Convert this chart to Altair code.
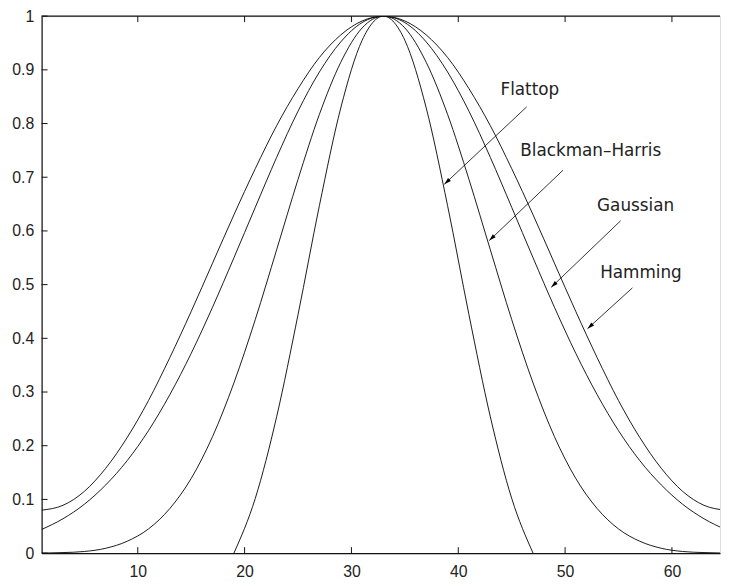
import altair as alt
import pandas as pd

# ---- data ----
x_samples = [1, 3, 5, 7, 9, 11, 13, 15, 17, 19, 21, 23, 25, 27, 29, 31, 33,
             35, 37, 39, 41, 43, 45, 47, 49, 51, 53, 55, 57, 59, 61, 63, 65]
hamming = [0.080, 0.089, 0.115, 0.158, 0.215, 0.284, 0.364, 0.450, 0.540, 0.630,
           0.716, 0.796, 0.865, 0.923, 0.965, 0.991, 1.000, 0.991, 0.965, 0.923,
           0.865, 0.796, 0.716, 0.630, 0.540, 0.450, 0.364, 0.284, 0.215, 0.158,
           0.115, 0.089, 0.080]
gaussian = [0.044, 0.064, 0.091, 0.127, 0.172, 0.228, 0.295, 0.372, 0.458, 0.550,
            0.644, 0.737, 0.823, 0.896, 0.952, 0.988, 1.000, 0.988, 0.952, 0.896,
            0.823, 0.737, 0.644, 0.550, 0.458, 0.372, 0.295, 0.228, 0.172, 0.127,
            0.091, 0.064, 0.044]
blackman_harris = [0.000, 0.001, 0.003, 0.009, 0.022, 0.045, 0.083, 0.139, 0.217, 0.317,
                   0.435, 0.565, 0.696, 0.817, 0.914, 0.978, 1.000, 0.978, 0.914, 0.817,
                   0.696, 0.565, 0.435, 0.317, 0.217, 0.139, 0.083, 0.045, 0.022, 0.009,
                   0.003, 0.001, 0.000]
flattop_x = [19, 21, 23, 25, 27, 29, 31, 33, 35, 37, 39, 41, 43, 45, 47]
flattop = [0.000, 0.102, 0.254, 0.444, 0.647, 0.829, 0.955, 1.000, 0.955, 0.829,
           0.647, 0.444, 0.254, 0.102, 0.000]

x_ticks = [10, 20, 30, 40, 50, 60]
y_ticks = [0, 0.1, 0.2, 0.3, 0.4, 0.5, 0.6, 0.7, 0.8, 0.9, 1]

label_names = ["Flattop", "Blackman–Harris", "Gaussian", "Hamming"]
label_x = [46.7, 52.4, 56.6, 57.1]
label_y = [0.862, 0.748, 0.646, 0.521]
arrow_x0 = [46.4, 49.8, 55.2, 56.3]
arrow_y0 = [0.831, 0.713, 0.619, 0.494]
arrow_x1 = [38.7, 42.9, 48.7, 52.1]
arrow_y1 = [0.687, 0.582, 0.495, 0.418]
arrow_angle = [227, 226, 226, 228]

# ---- tables ----
rows = []
for name, ys, xs in [("Hamming", hamming, x_samples), ("Gaussian", gaussian, x_samples),
                     ("Blackman-Harris", blackman_harris, x_samples), ("Flattop", flattop, flattop_x)]:
    for xv, yv in zip(xs, ys):
        rows.append({"series": name, "x": xv, "y": yv})
curves = pd.DataFrame(rows)
labels = pd.DataFrame({"text": label_names, "x": label_x, "y": label_y})
arrows = pd.DataFrame({"x0": arrow_x0, "y0": arrow_y0, "x1": arrow_x1, "y1": arrow_y1,
                       "ang": arrow_angle})

W, H = 686, 543
xscale = alt.Scale(domain=[1, 64.5], nice=False, zero=False)
yscale = alt.Scale(domain=[0, 1], nice=False, zero=False)

tick_font = "Liberation Sans"
x_axis = alt.Axis(values=x_ticks, ticks=False, grid=False, title=None, domainColor="#111",
                  domainWidth=1.2, labelFont=tick_font, labelFontSize=16, labelColor="#222",
                  labelPadding=11)
y_axis = alt.Axis(values=y_ticks, ticks=False, grid=False, title=None, domainColor="#111",
                  domainWidth=1.2, labelFont=tick_font, labelFontSize=16, labelColor="#222",
                  labelPadding=8,
                  labelExpr="datum.value == 0 ? '0' : (datum.value == 1 ? '1' : format(datum.value, '.1f'))")

lines = alt.Chart(curves).mark_line(color="black", strokeWidth=0.9, interpolate="monotone",
                                    clip=True).encode(
    x=alt.X("x:Q", scale=xscale, axis=x_axis),
    y=alt.Y("y:Q", scale=yscale, axis=y_axis),
    detail="series:N",
)

xt = pd.DataFrame({"t": x_ticks})
yt = pd.DataFrame({"v": y_ticks})
bottom_ticks = alt.Chart(xt).mark_rule(color="#111", strokeWidth=1).encode(
    x=alt.X("t:Q", scale=xscale, axis=x_axis), y=alt.value(H), y2=alt.value(H - 6))
top_ticks = alt.Chart(xt).mark_rule(color="#111", strokeWidth=1).encode(
    x=alt.X("t:Q", scale=xscale, axis=x_axis), y=alt.value(0), y2=alt.value(6))
left_ticks = alt.Chart(yt).mark_rule(color="#111", strokeWidth=1).encode(
    y=alt.Y("v:Q", scale=yscale, axis=y_axis), x=alt.value(0), x2=alt.value(6))
top_border = alt.Chart(pd.DataFrame({"a": [0]})).mark_rule(color="#111", strokeWidth=1.2).encode(
    y=alt.value(0))

arrow_lines = alt.Chart(arrows).mark_rule(color="black", strokeWidth=0.8).encode(
    x=alt.X("x0:Q", scale=xscale, axis=x_axis), y=alt.Y("y0:Q", scale=yscale, axis=y_axis),
    x2="x1:Q", y2="y1:Q")
arrow_heads = alt.Chart(arrows).mark_point(shape="M0,0L-0.3,1L0.3,1Z", filled=True, size=196,
                                           color="black", opacity=1, strokeWidth=0).encode(
    x=alt.X("x1:Q", scale=xscale, axis=x_axis), y=alt.Y("y1:Q", scale=yscale, axis=y_axis),
    angle=alt.Angle("ang:Q", scale=None))

texts = alt.Chart(labels).mark_text(font="DejaVu Sans", fontSize=17, color="#222",
                                    align="center", baseline="middle").encode(
    x=alt.X("x:Q", scale=xscale, axis=x_axis), y=alt.Y("y:Q", scale=yscale, axis=y_axis),
    text="text:N")

chart = alt.layer(lines, bottom_ticks, top_ticks, left_ticks, top_border,
                  arrow_lines, arrow_heads, texts).properties(
    width=W, height=H,
    autosize=alt.AutoSizeParams(type="none"),
    padding={"left": 34, "top": 5, "right": 1, "bottom": 27},
).configure_view(stroke=None).configure(background="white")

chart.save("out.html", embed_options={"renderer": "svg", "actions": False})
